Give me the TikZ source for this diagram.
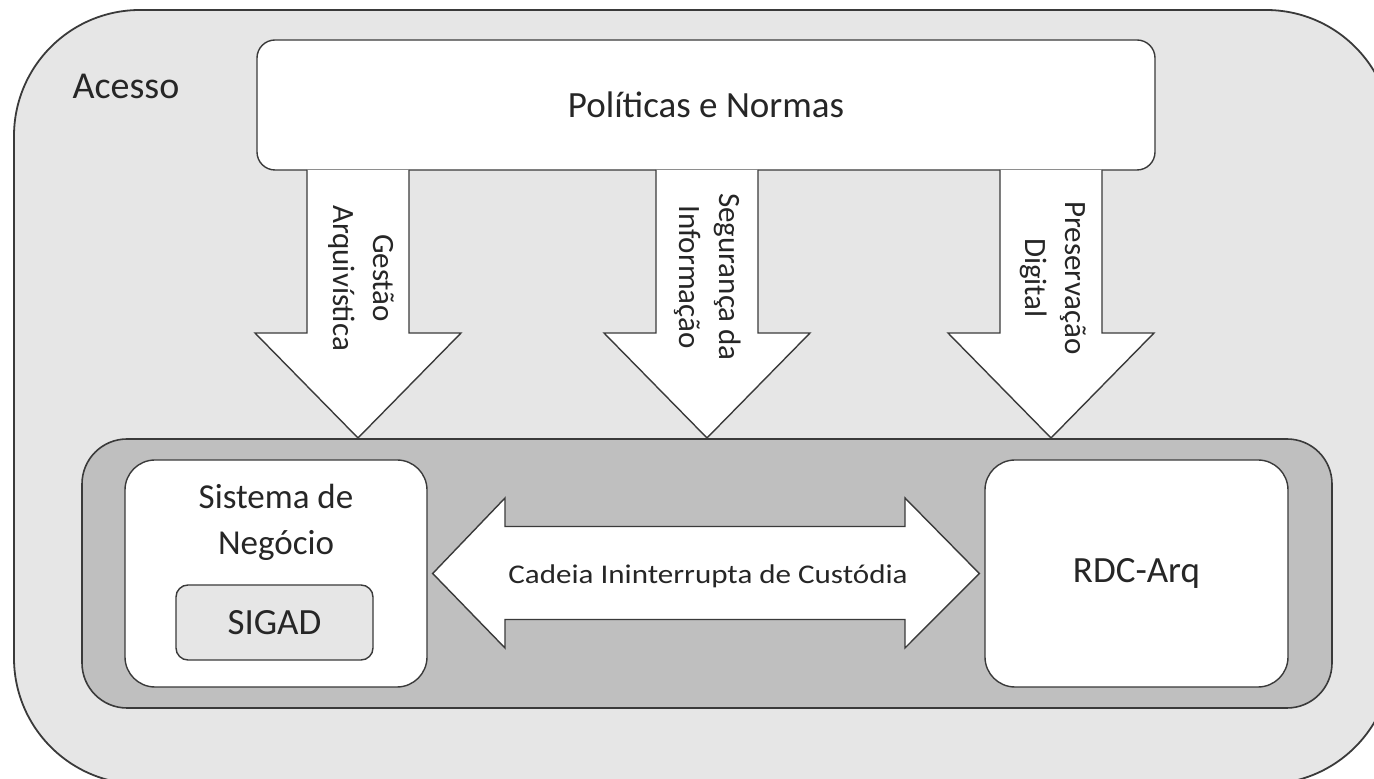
\documentclass[tikz,border=0pt]{standalone}
\usepackage{fontspec}
\setmainfont{Carlito}
\usepackage{graphicx}
\definecolor{linec}{HTML}{3A3A3A}
\definecolor{lightg}{HTML}{E6E6E6}
\definecolor{midg}{HTML}{BFBFBF}
\definecolor{txtc}{HTML}{262626}
\tikzset{
  outerbox/.style={draw=linec, line width=1.8pt, fill=lightg, rounded corners=126pt},
  innerbox/.style={draw=linec, line width=1.6pt, fill=midg, rounded corners=45pt},
  whitebox/.style={draw=linec, line width=1.4pt, fill=white, rounded corners=30pt, inner sep=0pt},
  polbox/.style={draw=linec, line width=1.4pt, fill=white, rounded corners=18pt, inner sep=0pt},
  sigadbox/.style={draw=linec, line width=1.4pt, fill=lightg, rounded corners=12pt, inner sep=0pt},
  blockarrow/.style={draw=linec, line width=1.4pt, fill=white, line join=miter},
  lbl/.style={text=txtc, inner sep=0pt},
  vlbl/.style={text=txtc, inner sep=0pt, rotate=-90, align=center, font=\fontsize{31}{40}\selectfont},
}
\begin{document}
\begin{tikzpicture}[x=1pt,y=1pt]
\useasboundingbox (0,0) rectangle (1374,779);
% outer "Acesso" region
\draw[outerbox] (14,769) rectangle (1392,-5);
\node[lbl, font=\fontsize{38}{44}\selectfont] (acesso) at (126,693) {Acesso};
% Políticas e Normas
\node[polbox, minimum width=898pt, minimum height=130pt, font=\fontsize{37}{44}\selectfont, text=txtc] (pol) at (706,674) {Políticas e Normas};
% inner dark region
\draw[innerbox] (82,340) rectangle (1332,71);
% three down arrows from pol to inner region
\foreach \cx in {358, 707, 1051}{
  \draw[blockarrow] (\cx-51,609) -- (\cx-51,446) -- (\cx-103,446) -- (\cx,341)
     -- (\cx+103,446) -- (\cx+51,446) -- (\cx+51,609);
}
\node[vlbl] (ga) at (361,501) {Gestão\\Arquivística};
\node[vlbl] (si) at (708,502) {Segurança da\\Informação};
\node[vlbl] (pd) at (1053,501) {Preservação\\Digital};
% Sistema de Negócio
\node[whitebox, minimum width=302pt, minimum height=227pt] (sn) at (276,205.5) {};
\node[lbl, align=center, font=\fontsize{35}{46}\selectfont] (sntxt) at (276,257) {Sistema de\\Negócio};
\node[sigadbox, minimum width=197pt, minimum height=75pt, font=\fontsize{37}{44}\selectfont, text=txtc] (sigad) at (274.5,156.5) {SIGAD};
% RDC-Arq
\node[whitebox, minimum width=303pt, minimum height=227pt, font=\fontsize{37}{44}\selectfont, text=txtc] (rdc) at (1136.5,205.5) {RDC-Arq};
% double arrow between sn and rdc
\draw[blockarrow] (sn.east) ++(5,0) coordinate (la) -- (505,281) -- (505,252.5) -- (905,252.5) -- (905,281)
   -- ([xshift=-5pt]rdc.west) coordinate (ra) -- (905,131) -- (905,159.5) -- (505,159.5) -- (505,131) -- cycle;
\node[lbl, font=\fontsize{27}{32}\selectfont] (cadeia) at (708,203) {\scalebox{1.15}[1]{Cadeia Ininterrupta de Custódia}};
\end{tikzpicture}
\end{document}
